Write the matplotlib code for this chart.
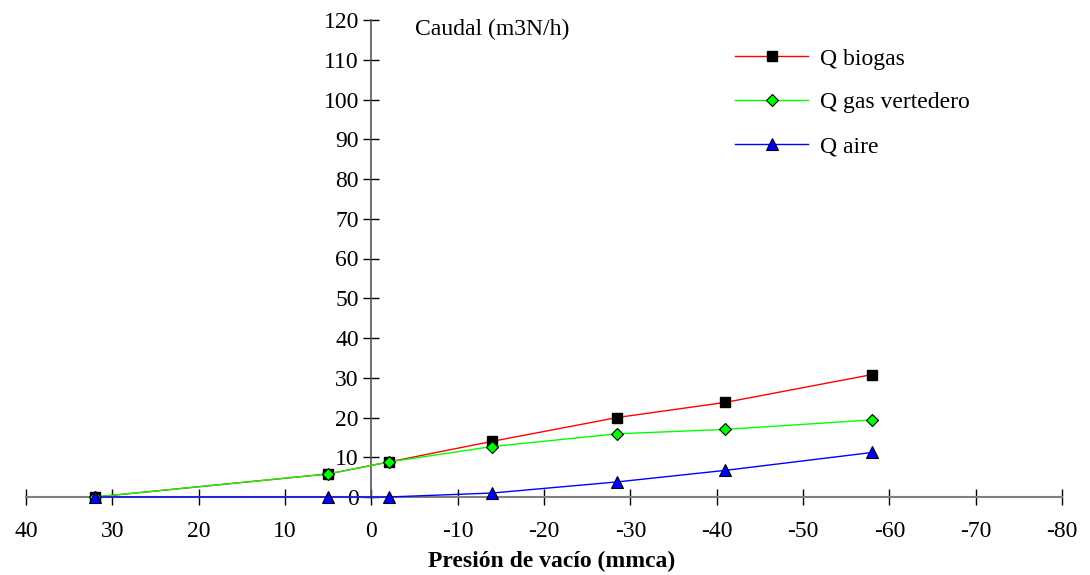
import matplotlib
matplotlib.use("Agg")
import matplotlib.pyplot as plt

presion = [32, 5, -2, -14, -28.5, -41, -58]
q_biogas = [0, 5.8, 8.8, 14, 20, 23.8, 30.8]
q_vertedero = [0, 5.8, 8.8, 12.7, 15.9, 17, 19.4]
q_aire = [0, 0, 0, 1, 3.8, 6.7, 11.2]

xticks = list(range(40, -81, -10))
yticks = list(range(0, 121, 10))

plt.rcParams['font.family'] = ['Liberation Serif', 'DejaVu Serif']

fig = plt.figure(figsize=(10.9, 5.75), dpi=100)
ax = fig.add_axes([26/1090, 78/575, 1036/1090, 477/575])

ax.plot(presion, q_biogas, color='red', lw=1, marker='s', ms=6.5,
        mfc='black', mec='black', label='Q biogas', zorder=3)
ax.plot(presion, q_vertedero, color='#00ff00', lw=1, marker='D', ms=6,
        mfc='#00ff00', mec='black', mew=0.8, label='Q gas vertedero', zorder=4)
ax.plot(presion, q_aire, color='blue', lw=1, marker='^', ms=8,
        mfc='blue', mec='black', mew=0.8, label='Q aire', zorder=5)

ax.set_xlim(40, -80)
ax.set_ylim(0, 120)
ax.set_xticks(xticks)
ax.set_yticks(yticks)
ax.set_xticklabels([str(t) for t in xticks])
ax.set_yticklabels([str(t) for t in yticks])

for s in ['top', 'right']:
    ax.spines[s].set_visible(False)
ax.spines['left'].set_position(('data', 0))
ax.spines['bottom'].set_position(('data', 0))
ax.spines['bottom'].set_color('#808080')
ax.spines['bottom'].set_linewidth(1.5)
ax.spines['left'].set_color('#555555')
ax.spines['left'].set_linewidth(1.2)
ax.spines['bottom'].set_zorder(2)

ax.tick_params(axis='x', direction='inout', length=12, width=1, labelsize=17, pad=11)
ax.tick_params(axis='y', direction='inout', length=12, width=1, labelsize=17, pad=3)
for line in ax.lines:
    line.set_clip_on(False)

ax.text(-5, 117.5, 'Caudal (m3N/h)', fontsize=17, ha='left', va='center')
fig.text(552/1090, 1 - 561/575, 'Presión de vacío (mmca)', fontsize=17,
         fontweight='bold', ha='center', va='center')

ax.legend(loc='upper left', bbox_to_anchor=(735/1090, 1 - 48/575),
          bbox_transform=fig.transFigure, frameon=False, fontsize=17,
          handlelength=3.1, labelspacing=0.95, handletextpad=0.5,
          borderpad=0, borderaxespad=0)

fig.savefig('out.png', dpi=100)
